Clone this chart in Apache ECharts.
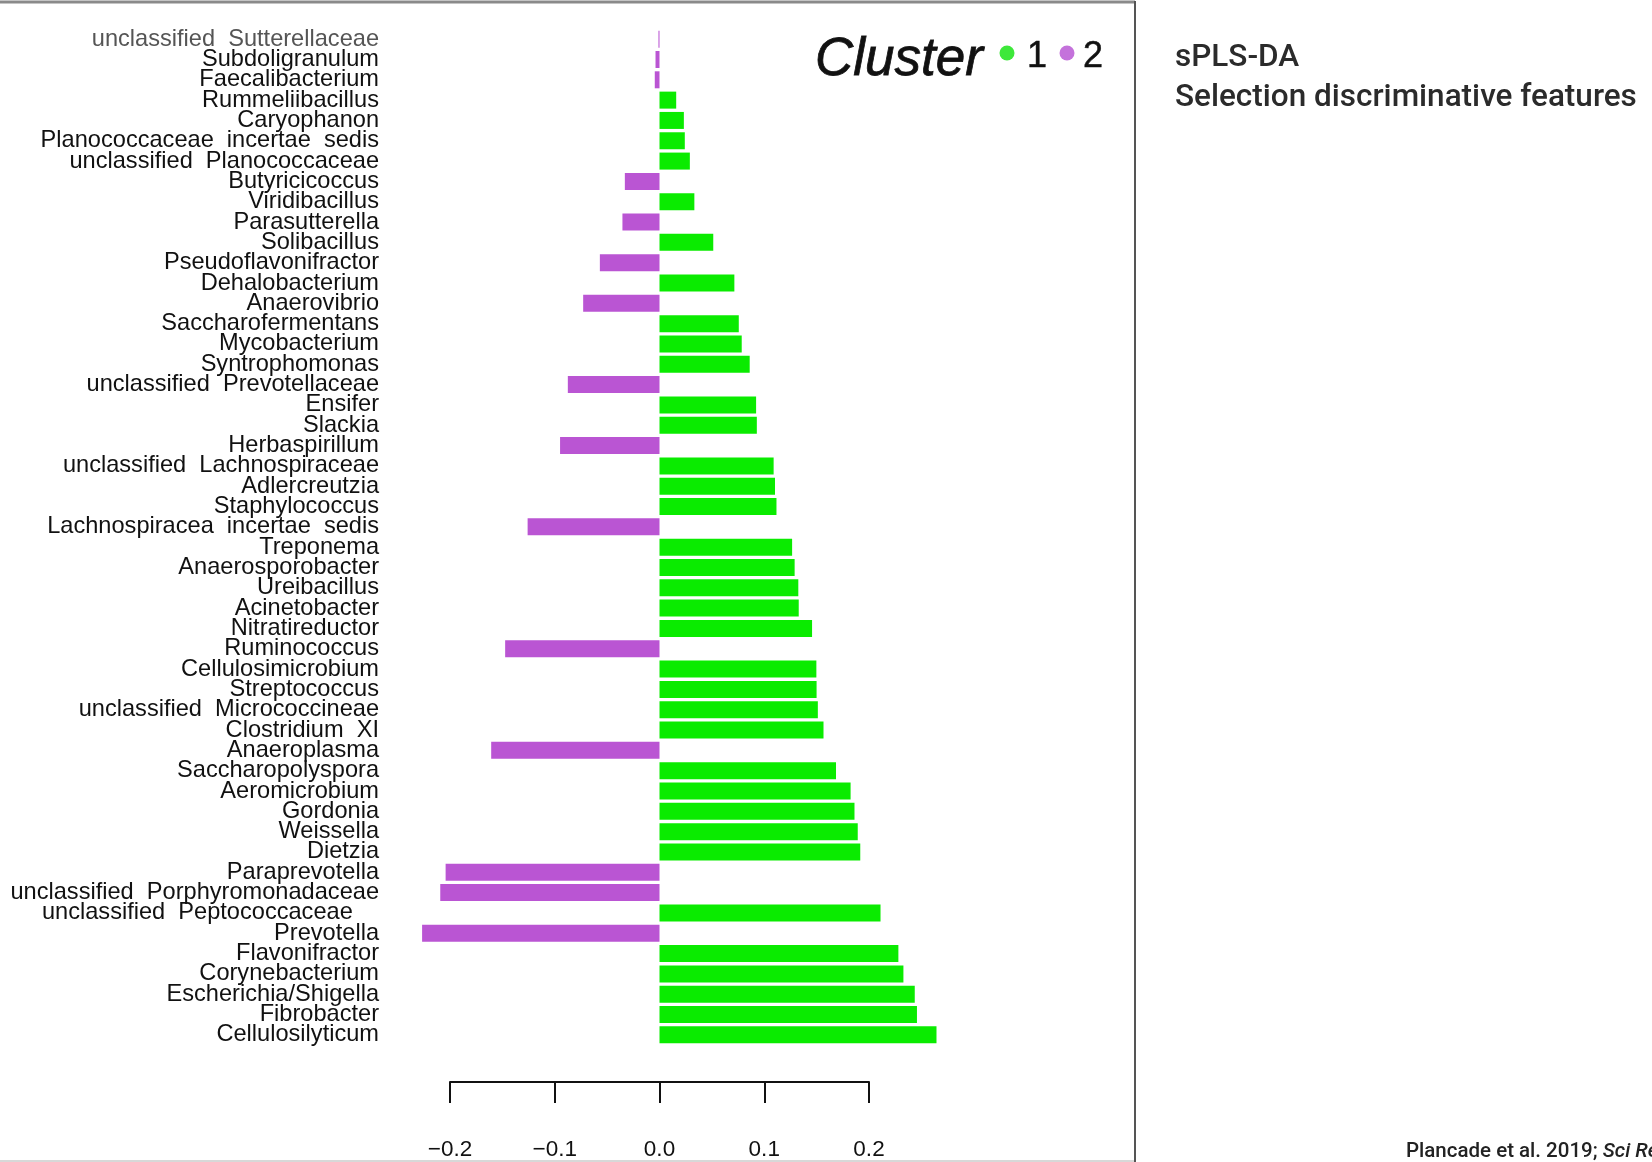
<!DOCTYPE html>
<html>
<head>
<meta charset="utf-8">
<script src="https://cdn.jsdelivr.net/npm/echarts@6/dist/echarts.min.js"></script>
<style>
html,body{margin:0;padding:0;background:#fff;}
#chart{width:1652px;height:1162px;}
</style>
</head>
<body>
<div id="chart"></div>
<script>
// Categories, top to bottom
const categories = [
  'unclassified  Sutterellaceae','Subdoligranulum','Faecalibacterium','Rummeliibacillus','Caryophanon',
  'Planococcaceae  incertae  sedis','unclassified  Planococcaceae','Butyricicoccus','Viridibacillus','Parasutterella',
  'Solibacillus','Pseudoflavonifractor','Dehalobacterium','Anaerovibrio','Saccharofermentans',
  'Mycobacterium','Syntrophomonas','unclassified  Prevotellaceae','Ensifer','Slackia',
  'Herbaspirillum','unclassified  Lachnospiraceae','Adlercreutzia','Staphylococcus','Lachnospiracea  incertae  sedis',
  'Treponema','Anaerosporobacter','Ureibacillus','Acinetobacter','Nitratireductor',
  'Ruminococcus','Cellulosimicrobium','Streptococcus','unclassified  Micrococcineae','Clostridium  XI',
  'Anaeroplasma','Saccharopolyspora','Aeromicrobium','Gordonia','Weissella',
  'Dietzia','Paraprevotella','unclassified  Porphyromonadaceae','unclassified  Peptococcaceae    ','Prevotella',
  'Flavonifractor','Corynebacterium','Escherichia/Shigella','Fibrobacter','Cellulosilyticum'
];
// Loadings
const values = [
  -0.001, -0.0038, -0.0045, 0.0159, 0.0232,
  0.0241, 0.0289, -0.033, 0.0332, -0.0353,
  0.0512, -0.0568, 0.0713, -0.0727, 0.0755,
  0.0783, 0.0859, -0.0873, 0.0920, 0.0927,
  -0.0947, 0.1087, 0.1100, 0.1114, -0.1256,
  0.1263, 0.1287, 0.1322, 0.1326, 0.1453,
  -0.1470, 0.1494, 0.1496, 0.1508, 0.1562,
  -0.1603, 0.1681, 0.1820, 0.1857, 0.1888,
  0.1912, -0.2037, -0.2088, 0.2105, -0.2261,
  0.2275, 0.2323, 0.2431, 0.2452, 0.2638
];
// Cluster of each feature (colour)
const clusters = [
  2,2,2,1,1, 1,1,2,1,2, 1,2,1,2,1, 1,1,2,1,1, 2,1,1,1,2,
  1,1,1,1,1, 2,1,1,1,1, 2,1,1,1,1, 1,2,2,1,2, 1,1,1,1,1
];
const tickLabels = ['\u22120.2','\u22120.1','0.0','0.1','0.2'];
const legendLabels = ['1','2'];

const GREEN = '#0aeb00';
const PURPLE = '#ba55d3';
const LABEL_FONT = '"Liberation Sans", Arial, Helvetica, sans-serif';

const chart = echarts.init(document.getElementById('chart'), null, {renderer:'canvas'});

const option = {
  animation: false,
  backgroundColor: '#ffffff',
  grid: [
    {left: 397, width: 577.5, top: 29, height: 1016, containLabel: false},
    {left: 450, width: 419, top: 1072, height: 10, containLabel: false}
  ],
  xAxis: [
    {type: 'value', gridIndex: 0, min: -0.25, max: 0.3, show: false},
    {
      type: 'value', gridIndex: 1, position: 'bottom', min: -0.2, max: 0.2, interval: 0.1,
      axisLine: {show: true, onZero: false, lineStyle: {color: '#111', width: 2}},
      axisTick: {show: true, length: 21, lineStyle: {color: '#111', width: 2}},
      splitLine: {show: false},
      axisLabel: {
        margin: 56, fontSize: 22.5, color: '#111', fontFamily: LABEL_FONT,
        formatter: function (v) { return tickLabels[Math.round((v + 0.2) / 0.1)]; }
      }
    }
  ],
  yAxis: [
    {
      type: 'category', gridIndex: 0, data: categories, inverse: true,
      axisLine: {show: false}, axisTick: {show: false}, splitLine: {show: false},
      axisLabel: {
        margin: 18, fontSize: 23.6, fontFamily: LABEL_FONT,
        color: function (v, i) { return i === 0 ? '#555555' : '#111111'; },
        interval: 0
      }
    },
    {type: 'value', gridIndex: 1, show: false}
  ],
  series: [
    {
      name: '1', type: 'bar', xAxisIndex: 0, yAxisIndex: 0, barWidth: 17, barGap: '-100%',
      itemStyle: {color: GREEN},
      data: values.map((v, i) => clusters[i] === 1 ? v : '-')
    },
    {
      name: '2', type: 'bar', xAxisIndex: 0, yAxisIndex: 0, barWidth: 17, barGap: '-100%',
      itemStyle: {color: PURPLE},
      data: values.map((v, i) => clusters[i] === 2 ? v : '-')
    }
  ],
  graphic: [
    // frame lines
    {type: 'line', shape: {x1: 0, y1: 2, x2: 1135, y2: 2}, style: {stroke: '#8a8a8a', lineWidth: 3}},
    {type: 'line', shape: {x1: 1135, y1: 1, x2: 1135, y2: 1162}, style: {stroke: '#555555', lineWidth: 2}},
    {type: 'line', shape: {x1: 0, y1: 1161, x2: 1134, y2: 1161}, style: {stroke: '#d8d8d8', lineWidth: 2}},
    // legend
    {type: 'text', x: 815, y: 60, style: {
      text: 'Cluster', font: 'italic 53px "Liberation Sans", Arial, sans-serif', fill: '#111',
      verticalAlign: 'middle', stroke: '#222', lineWidth: 0.8, shadowColor: 'rgba(60,20,0,0.45)', shadowBlur: 3
    }},
    {type: 'circle', shape: {cx: 1007, cy: 53, r: 7.5}, style: {fill: '#3ee83a'}},
    {type: 'text', x: 1027, y: 57, style: {
      text: legendLabels[0], font: '36px "Liberation Sans", Arial, sans-serif', fill: '#111',
      verticalAlign: 'middle', stroke: '#222', lineWidth: 0.5, shadowColor: 'rgba(0,0,0,0.3)', shadowBlur: 2
    }},
    {type: 'circle', shape: {cx: 1067, cy: 53, r: 7.5}, style: {fill: '#c472db'}},
    {type: 'text', x: 1083, y: 57, style: {
      text: legendLabels[1], font: '36px "Liberation Sans", Arial, sans-serif', fill: '#111',
      verticalAlign: 'middle', stroke: '#222', lineWidth: 0.5, shadowColor: 'rgba(0,0,0,0.3)', shadowBlur: 2
    }},
    // title
    {type: 'text', x: 1175, y: 58, style: {
      text: 'sPLS-DA', font: '500 31.5px Roboto, "Noto Sans", sans-serif', fill: '#2b2b2b', verticalAlign: 'middle'
    }},
    {type: 'text', x: 1175, y: 98, style: {
      text: 'Selection discriminative features', font: '500 31.5px Roboto, "Noto Sans", sans-serif', fill: '#2b2b2b', verticalAlign: 'middle'
    }},
    // citation
    {type: 'text', x: 1406, y: 1152, style: {
      text: '{a|Plancade et al. 2019; }{b|Sci Rep}',
      verticalAlign: 'middle',
      rich: {
        a: {font: '500 20.5px Roboto, "Noto Sans", sans-serif', fill: '#222'},
        b: {font: 'italic 500 20.5px Roboto, "Noto Sans", sans-serif', fill: '#222'}
      }
    }}
  ]
};
chart.setOption(option);
</script>
</body>
</html>
